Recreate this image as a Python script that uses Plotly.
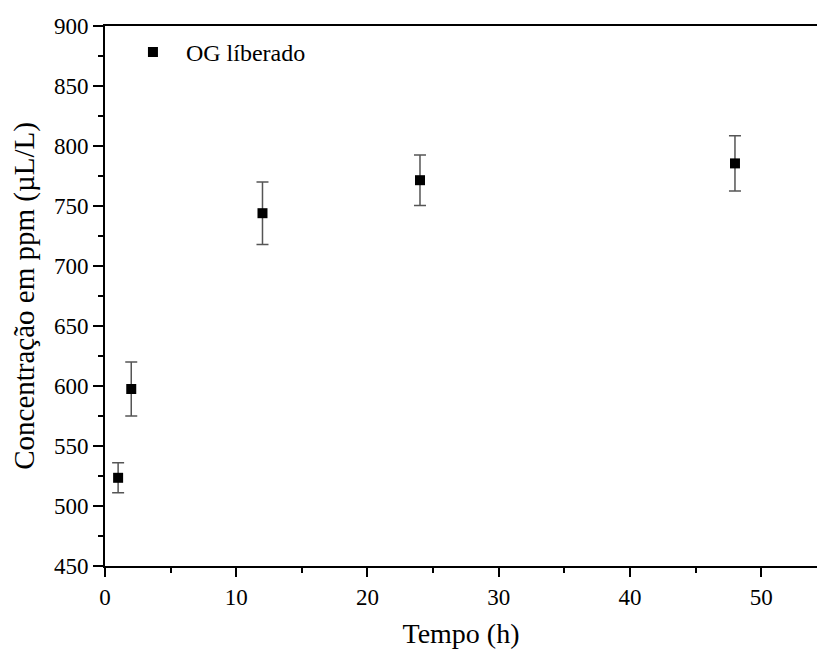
import plotly.graph_objects as go

# Released OG concentration over time
tempo_h = [1, 2, 12, 24, 48]
concentracao = [523.5, 597.5, 744.0, 771.5, 785.5]
erro = [12.5, 22.5, 26.0, 21.0, 23.0]

x_ticks = [0, 10, 20, 30, 40, 50]
y_ticks = [450, 500, 550, 600, 650, 700, 750, 800, 850, 900]

FONT = "Liberation Serif"
TICK_FONT = dict(family=FONT, size=23, color="black")

fig = go.Figure()
fig.add_trace(go.Scatter(
    x=tempo_h,
    y=concentracao,
    mode="markers",
    name="OG líberado",
    marker=dict(symbol="square", size=10, color="black"),
    error_y=dict(type="data", array=erro, visible=True,
                 color="#555555", thickness=1.5, width=6),
))

fig.update_layout(
    width=817,
    height=649,
    margin=dict(l=105, r=0, t=26, b=81),
    paper_bgcolor="white",
    plot_bgcolor="white",
    font=dict(family=FONT, size=23, color="black"),
    showlegend=True,
    legend=dict(
        x=0.021, y=0.993, xanchor="left", yanchor="top",
        bgcolor="rgba(0,0,0,0)", font=dict(family=FONT, size=24, color="black"),
        itemwidth=56,
    ),
    xaxis=dict(
        range=[0, 54.25],
        tickmode="array",
        tickvals=x_ticks,
        ticktext=[str(v) for v in x_ticks],
        tickfont=TICK_FONT,
        ticks="outside", ticklen=9, tickwidth=2, tickcolor="black",
        minor=dict(dtick=5, tick0=0, ticks="outside", ticklen=5, tickwidth=2, tickcolor="black"),
        showline=True, linewidth=2, linecolor="black", mirror=True,
        showgrid=False, zeroline=False,
        title=dict(text="Tempo (h)", font=dict(family=FONT, size=28, color="black"), standoff=20),
    ),
    yaxis=dict(
        range=[450, 900],
        tickmode="array",
        tickvals=y_ticks,
        ticktext=[str(v) for v in y_ticks],
        tickfont=TICK_FONT,
        ticks="outside", ticklen=10, tickwidth=2, tickcolor="black",
        minor=dict(dtick=25, tick0=450, ticks="outside", ticklen=5, tickwidth=2, tickcolor="black"),
        showline=True, linewidth=2, linecolor="black",
        showgrid=False, zeroline=False,
        title=dict(text="Concentração em ppm (µL/L)", font=dict(family=FONT, size=29, color="black"), standoff=11),
    ),
)

fig.write_html("out.html")
